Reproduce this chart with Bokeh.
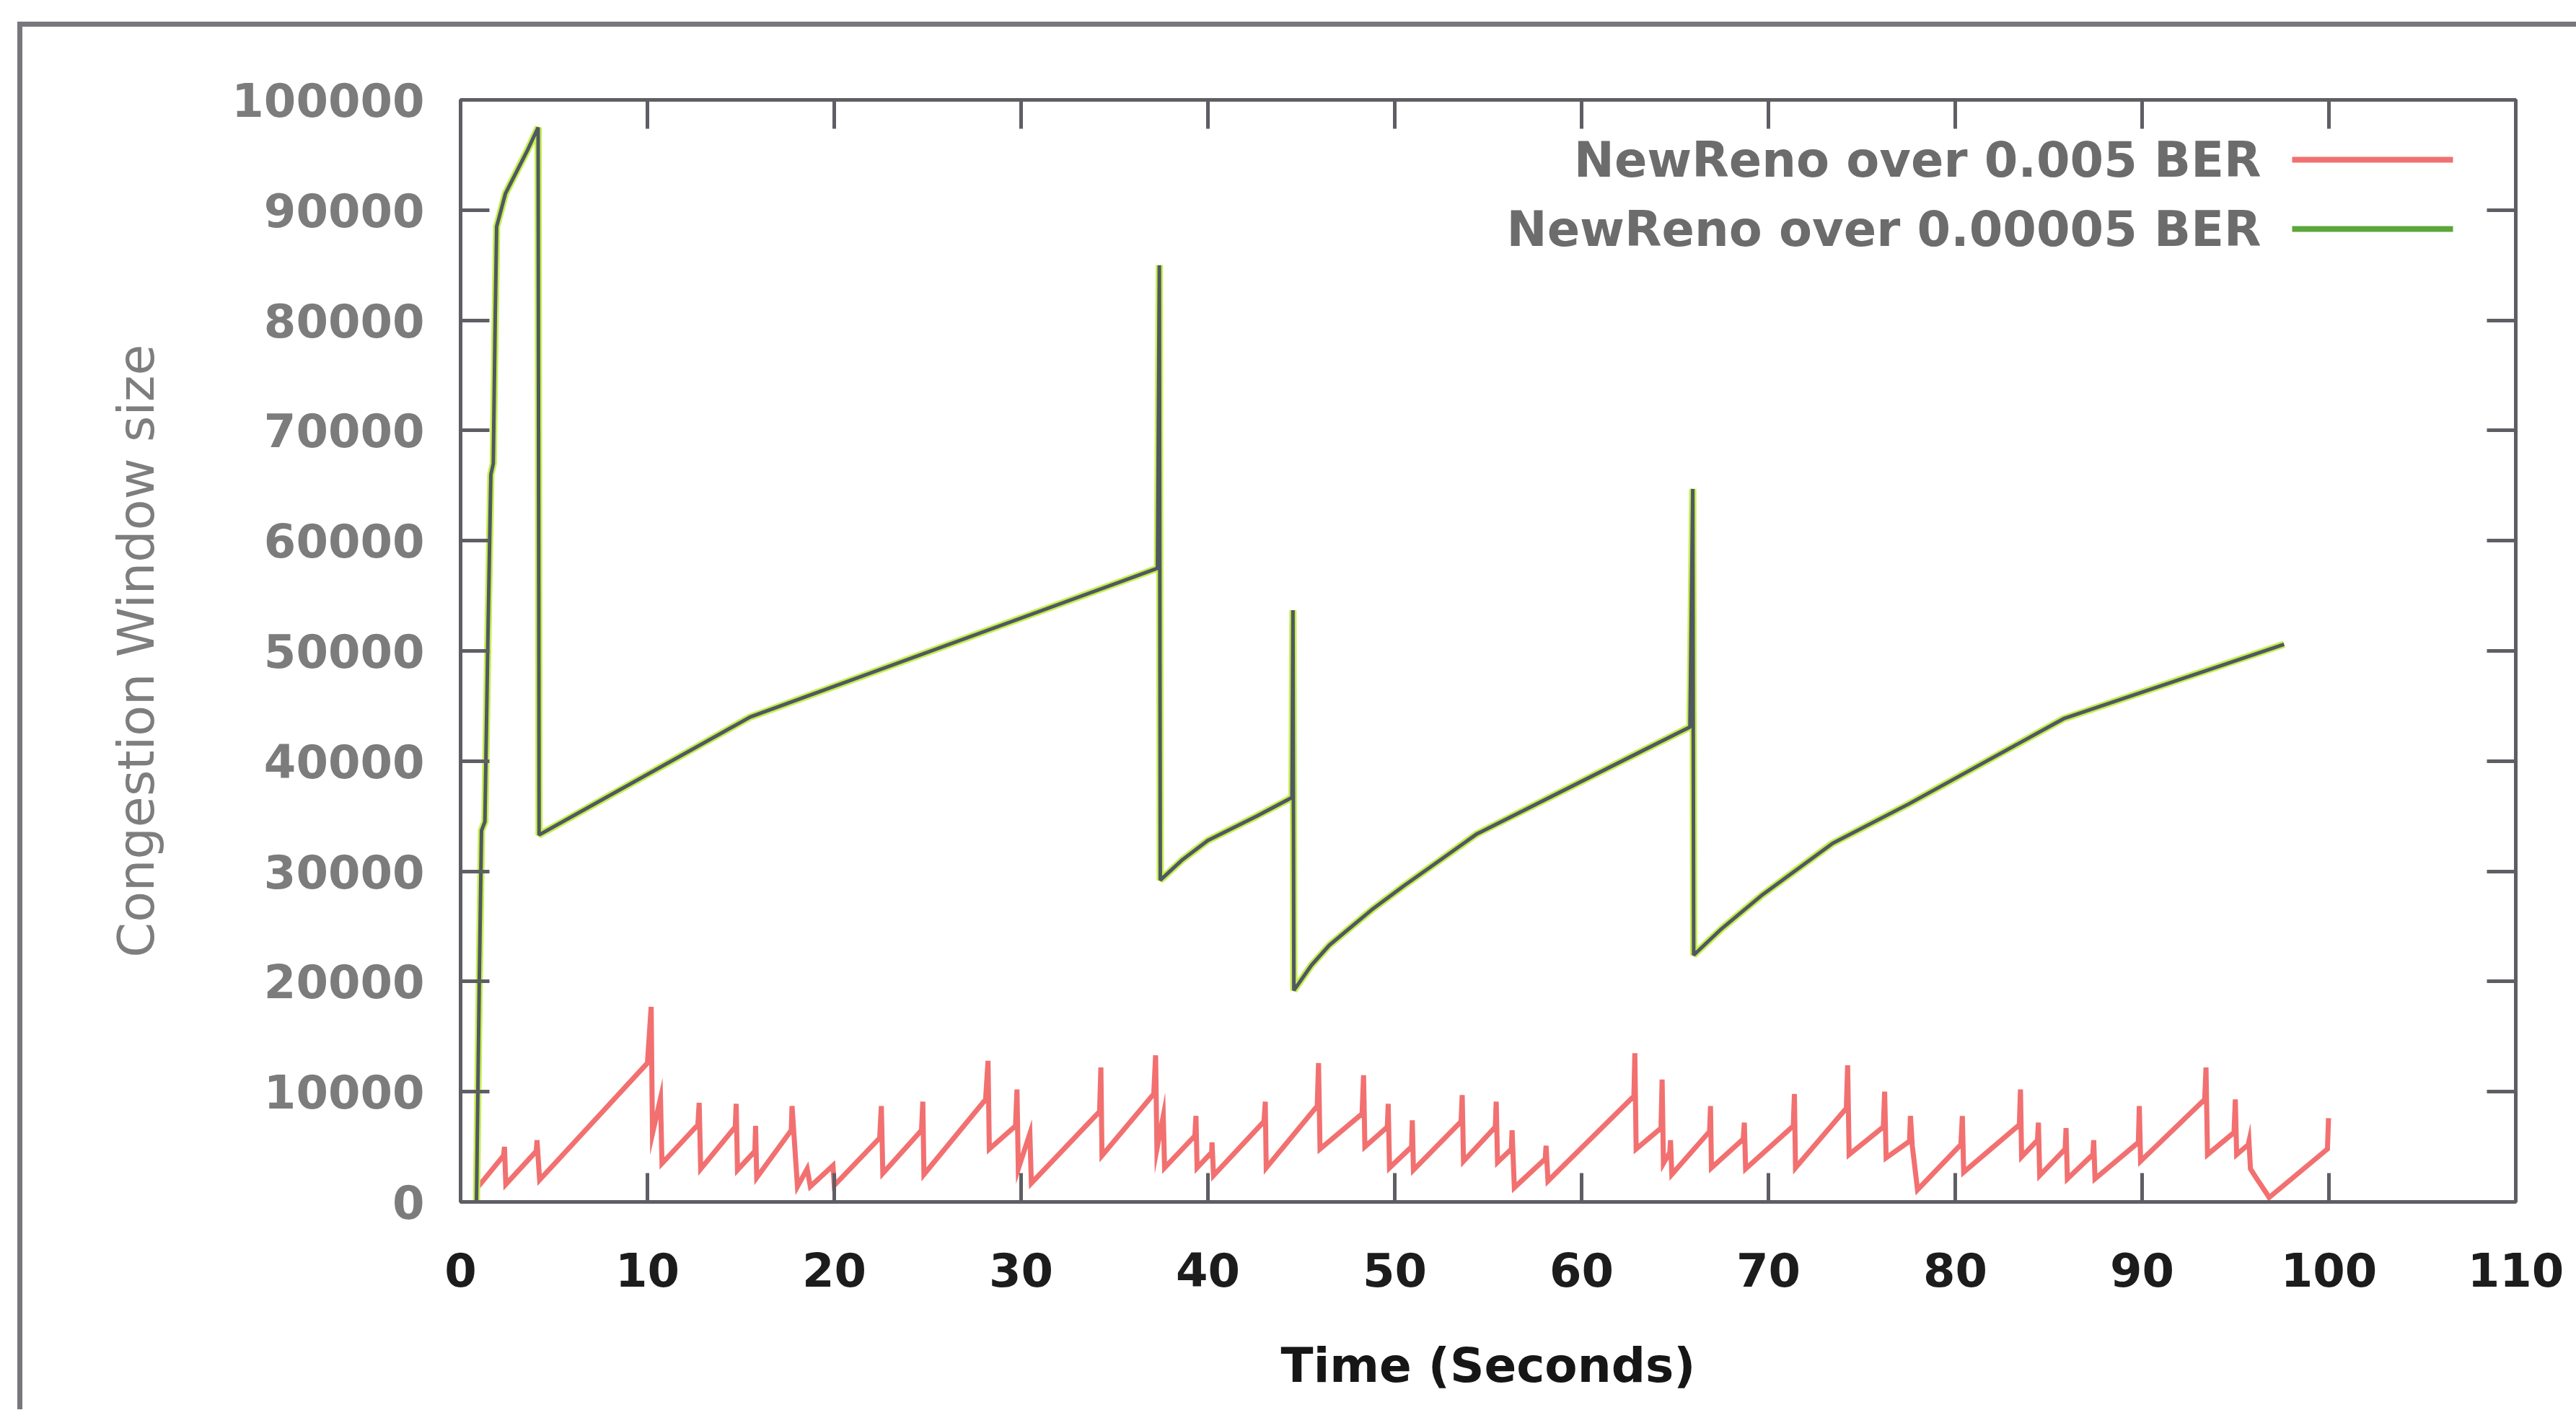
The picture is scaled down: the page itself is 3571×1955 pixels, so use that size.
from bokeh.plotting import figure
from bokeh.layouts import column
from bokeh.models import (LinearAxis, FixedTicker, Range1d, Label, BoxAnnotation,
                          PrintfTickFormatter)
from bokeh.embed import file_html
from bokeh.resources import INLINE

# ---- congestion window traces (time in s, cwnd in bytes) ----
red_time = [0.95, 2.30, 2.35, 2.42, 4.05, 4.09, 4.23, 10.0, 10.2, 10.27, 10.7, 10.78,
            12.7, 12.77, 12.85, 14.7, 14.75, 14.82, 15.75, 15.79, 15.85, 17.7, 17.74,
            18.03, 18.55, 18.72, 19.93, 20.0, 22.43, 22.52, 22.6, 24.67, 24.74, 24.8,
            28.1, 28.23, 28.3, 29.7, 29.78, 29.85, 30.47, 30.55, 34.2, 34.27, 34.33,
            37.1, 37.2, 37.27, 37.61, 37.68, 39.3, 39.36, 39.42, 40.2, 40.22, 40.3,
            43.0, 43.07, 43.12, 45.85, 45.92, 46.0, 48.25, 48.33, 48.4, 49.6, 49.65,
            49.72, 50.9, 50.94, 51.0, 53.55, 53.61, 53.68, 55.38, 55.43, 55.5, 56.24,
            56.28, 56.4, 58.05, 58.1, 58.2, 62.8, 62.85, 62.92, 64.25, 64.31, 64.38,
            64.72, 64.76, 64.83, 66.85, 66.9, 66.95, 68.65, 68.71, 68.78, 71.33, 71.39,
            71.45, 74.17, 74.24, 74.32, 76.15, 76.22, 76.3, 77.55, 77.6, 77.7, 77.98,
            80.3, 80.38, 80.45, 83.43, 83.49, 83.55, 84.4, 84.45, 84.52, 85.88, 85.93,
            86.0, 87.36, 87.41, 87.48, 89.8, 89.85, 89.92, 93.35, 93.42, 93.5, 94.92,
            94.99, 95.06, 95.68, 95.72, 95.8, 96.1, 96.65, 96.8, 99.92, 99.98]
red_cwnd = [1400, 4200, 5000, 1600, 4600, 5600, 2000, 12600, 17700, 6200, 9400, 3500,
            7000, 9000, 3000, 6800, 8900, 2900, 4600, 6900, 2200, 6500, 8700,
            1400, 3000, 1400, 3300, 1500, 5800, 8700, 2600, 6500, 9100, 2500,
            9300, 12800, 4800, 6900, 10200, 3000, 6200, 1700, 8200, 12200, 4200,
            9800, 13300, 4800, 7800, 3100, 6000, 7800, 3100, 4500, 5400, 2400,
            7300, 9100, 3100, 8700, 12600, 4800, 8000, 11500, 5000, 6800, 8900,
            3100, 5000, 7400, 2900, 7300, 9700, 3700, 6800, 9100, 3600, 4800,
            6500, 1300, 3900, 5100, 1900, 9600, 13500, 4800, 6700, 11100, 3500,
            4500, 5600, 2500, 6400, 8700, 3100, 5700, 7200, 3000, 6900, 9800,
            3100, 8500, 12400, 4300, 6800, 10000, 4000, 5500, 7800, 5100, 1100,
            5200, 7800, 2700, 7000, 10200, 4100, 5600, 7200, 2400, 4800, 6700,
            2100, 4300, 5600, 2100, 5400, 8700, 3700, 9300, 12200, 4300, 6300,
            9300, 4300, 5200, 5500, 3000, 2200, 800, 400, 4800, 7600]

green_time = [0.85, 1.0, 1.12, 1.3, 1.45, 1.62, 1.75, 1.85, 1.93, 2.4, 3.0, 3.6, 4.15,
              4.2, 15.5, 37.3, 37.4, 37.45, 38.6, 40.0, 42.6, 44.5, 44.55, 44.6, 45.55,
              46.5, 48.76, 50.5, 52.5, 54.4, 65.8, 65.95, 66.0, 67.5, 69.7, 73.4, 77.5,
              81.25, 85.8, 97.6]
green_cwnd = [0, 20000, 33700, 34500, 50000, 66000, 67000, 80000, 88500, 91500, 93500,
              95500, 97500, 33300, 44000, 57500, 85000, 29200, 31000, 32800, 35000,
              36700, 53700, 19200, 21500, 23300, 26500, 28700, 31100, 33400, 43100,
              64700, 22400, 24800, 27900, 32500, 36100, 39600, 43850, 50600]

x_ticks = list(range(0, 111, 10))
y_ticks = list(range(0, 100001, 10000))
series_names = ["NewReno over 0.005 BER", "NewReno over 0.00005 BER"]
x_title = "Time (Seconds)"
y_title = "Congestion Window size"

FONT = "DejaVu Sans"
FRAME = "#5e5e64"
RED = "#f27070"
GREEN_EDGE = "#c6ee50"
GREEN_CORE = "#4f5862"

# the page sheet has a thin grey edge on its top and left side
PAGE_LEFT, PAGE_TOP, PAGE_EDGE = 24, 30, 7
W = 3571 - PAGE_LEFT - PAGE_EDGE
H = 1955 - PAGE_TOP - PAGE_EDGE - 1

p = figure(width=W, height=H, output_backend="svg", toolbar_location=None,
           x_range=Range1d(0, 110), y_range=Range1d(0, 100000),
           min_border_left=638 - PAGE_LEFT - PAGE_EDGE, min_border_right=84,
           min_border_top=138 - PAGE_TOP - PAGE_EDGE, min_border_bottom=288)
p.background_fill_color = "white"
p.border_fill_color = "white"
p.xgrid.visible = False
p.ygrid.visible = False
p.outline_line_color = FRAME
p.outline_line_width = 5


def style_axis(ax, ticks, label_color, show_labels=True):
    ax.ticker = FixedTicker(ticks=ticks)
    ax.axis_line_color = FRAME
    ax.axis_line_width = 5
    ax.major_tick_line_color = FRAME
    ax.major_tick_line_width = 5
    ax.major_tick_in = 40
    ax.major_tick_out = 0
    ax.minor_tick_line_color = None
    ax.major_label_text_font = FONT
    ax.major_label_text_font_size = "64px"
    ax.major_label_text_font_style = "bold"
    ax.major_label_text_color = label_color
    if not show_labels:
        ax.major_label_overrides = {t: "" for t in ticks}
        ax.major_label_standoff = 0


xa = p.xaxis[0]
style_axis(xa, x_ticks, "#1c1c1c")
xa.major_label_standoff = 70
xa.axis_label = x_title
xa.axis_label_text_font = FONT
xa.axis_label_text_font_size = "66px"
xa.axis_label_text_font_style = "bold"
xa.axis_label_text_color = "#161616"
xa.axis_label_standoff = 68

ya = p.yaxis[0]
style_axis(ya, y_ticks, "#7c7c7c")
ya.formatter = PrintfTickFormatter(format="%d")
ya.major_label_standoff = 50
ya.axis_label = y_title
ya.axis_label_text_font = FONT
ya.axis_label_text_font_size = "70px"
ya.axis_label_text_font_style = "normal"
ya.axis_label_text_color = "#7e7e7e"
ya.axis_label_standoff = 88

# mirrored tick marks on the top and right borders
top_ax = LinearAxis()
style_axis(top_ax, x_ticks, FRAME, show_labels=False)
p.add_layout(top_ax, "above")
right_ax = LinearAxis()
style_axis(right_ax, y_ticks, FRAME, show_labels=False)
p.add_layout(right_ax, "right")

# traces
p.line(red_time, red_cwnd, line_color=RED, line_width=7, line_join="miter")
p.line(green_time, green_cwnd, line_color=GREEN_EDGE, line_width=10)
p.line(green_time, green_cwnd, line_color=GREEN_CORE, line_width=5)

# key, gnuplot style: text on the left, sample line on the right
key_rows = [(1445, RED), (1349, "#5aa63a")]
for name, (sy, col) in zip(series_names, key_rows):
    p.add_layout(Label(x=2496, y=sy, x_units="screen", y_units="screen", text=name,
                       text_font=FONT, text_font_size="67px",
                       text_font_style="bold", text_color="#6c6c6c",
                       text_align="right", text_baseline="middle"))
    p.add_layout(BoxAnnotation(left=2539, right=2762, top=sy + 4, bottom=sy - 4,
                               left_units="screen", right_units="screen",
                               top_units="screen", bottom_units="screen",
                               fill_color=col, fill_alpha=1.0, line_alpha=0))

page = column(p, styles={
    "margin-left": f"{PAGE_LEFT}px",
    "margin-top": f"{PAGE_TOP}px",
    "border-left": f"{PAGE_EDGE}px solid #77777d",
    "border-top": f"{PAGE_EDGE}px solid #77777d",
})

open("out.html", "w").write(file_html(page, INLINE))
